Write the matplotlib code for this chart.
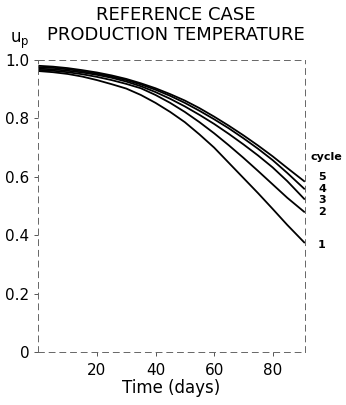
import numpy as np
import matplotlib
matplotlib.use("Agg")
import matplotlib.pyplot as plt

# values (dimensionless production temperature)
days = [0, 5, 10, 15, 20, 25, 30, 35, 40, 45, 50, 55, 60, 65, 70, 75, 80, 85, 91]
cycle1 = [0.962, 0.958, 0.952, 0.943, 0.931, 0.917, 0.902, 0.880, 0.853, 0.822,
          0.787, 0.745, 0.700, 0.648, 0.596, 0.544, 0.490, 0.435, 0.373]
cycle2 = [0.966, 0.963, 0.958, 0.951, 0.942, 0.931, 0.918, 0.903, 0.880, 0.853,
          0.822, 0.787, 0.749, 0.708, 0.665, 0.620, 0.574, 0.528, 0.478]
cycle3 = [0.970, 0.968, 0.963, 0.957, 0.949, 0.939, 0.926, 0.910, 0.890, 0.867,
          0.841, 0.812, 0.781, 0.747, 0.711, 0.673, 0.632, 0.585, 0.522]
cycle4 = [0.975, 0.973, 0.968, 0.961, 0.953, 0.943, 0.931, 0.916, 0.898, 0.877,
          0.853, 0.826, 0.797, 0.766, 0.732, 0.696, 0.657, 0.613, 0.557]
cycle5 = [0.980, 0.977, 0.972, 0.965, 0.957, 0.947, 0.935, 0.920, 0.903, 0.883,
          0.861, 0.835, 0.806, 0.775, 0.742, 0.707, 0.670, 0.630, 0.583]
cycles = [cycle1, cycle2, cycle3, cycle4, cycle5]
cycle_names = ['1', '2', '3', '4', '5']

plt.rcParams['font.family'] = 'DejaVu Sans'

fig = plt.figure(figsize=(3.46, 4.05), dpi=100)
ax = fig.add_axes([0.111, 0.131, 0.770, 0.721])

for c in cycles:
    ax.plot(days, c, color='black', lw=1.3, solid_capstyle='butt')

# cycle numbers at the right end of each curve
lab_off = [-0.008, 0.0, 0.0, 0.0, 0.017]
for name, c, off in zip(cycle_names, cycles, lab_off):
    ax.text(95.5, c[-1] + off, name, fontsize=8, fontweight='bold',
            va='center', ha='left', clip_on=False)
ax.text(93, 0.668, 'cycle', fontsize=8, fontweight='bold',
        va='center', ha='left', clip_on=False)

ax.set_xlim(0, 91)
ax.set_ylim(0, 1.0)
ax.set_xticks([20, 40, 60, 80])
ax.set_yticks([0, 0.2, 0.4, 0.6, 0.8, 1.0])
ax.set_yticklabels(['0', '0.2', '0.4', '0.6', '0.8', '1.0'])
ax.tick_params(labelsize=11, length=3, width=0.7, color='#555555')
ax.tick_params(axis='x', pad=5)

for s in ax.spines.values():
    s.set_linestyle((0, (6, 5)))
    s.set_linewidth(0.7)
    s.set_color('#666666')

ax.set_xlabel('Time (days)', fontsize=12, labelpad=1)
fig.text(0.508, 0.938, 'REFERENCE CASE\nPRODUCTION TEMPERATURE',
         ha='center', va='center', fontsize=13, linespacing=1.1)
fig.text(0.03, 0.898, r'u$_\mathrm{p}$', fontsize=12, ha='left', va='center')

fig.savefig('out.png', dpi=100)
